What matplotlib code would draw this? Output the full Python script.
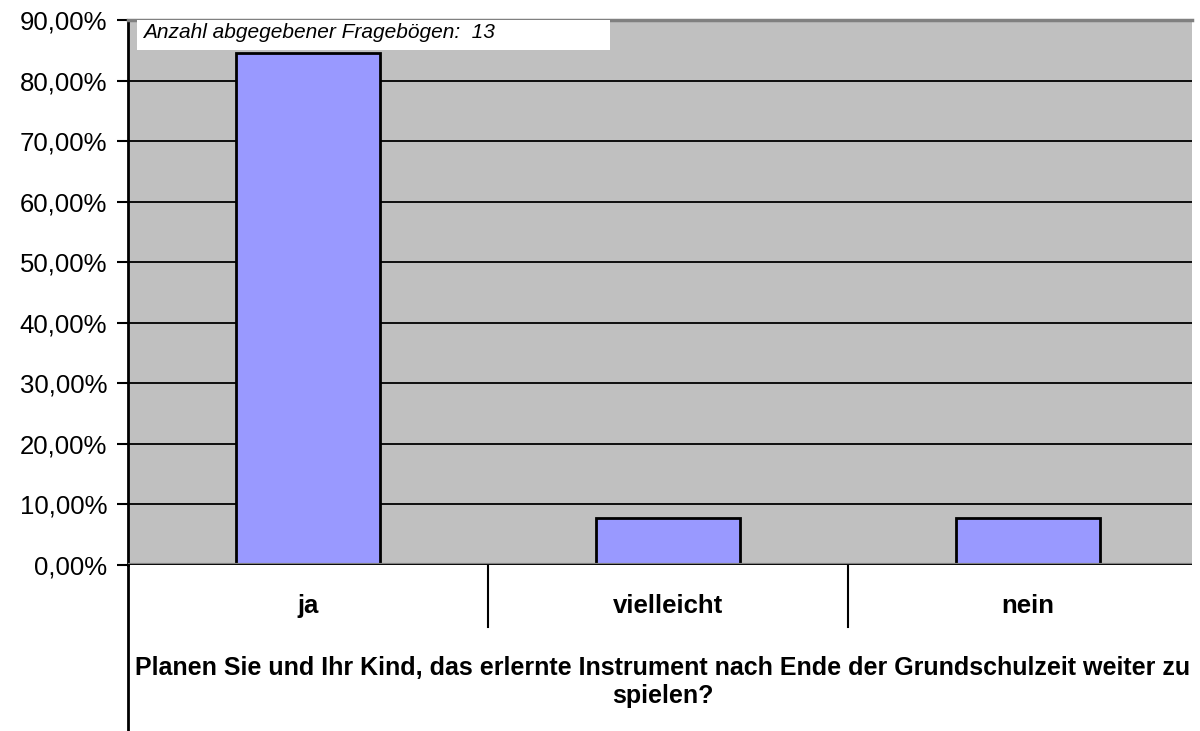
import numpy as np
import matplotlib
matplotlib.use("Agg")
import matplotlib.pyplot as plt
from matplotlib.patches import Rectangle
from matplotlib.ticker import FuncFormatter

plt.rcParams['font.family'] = ['Liberation Sans', 'DejaVu Sans']

# Data
categories = ['ja', 'vielleicht', 'nein']
shares = [11 / 13 * 100, 1 / 13 * 100, 1 / 13 * 100]
yticks = list(range(0, 91, 10))
note = 'Anzahl abgegebener Fragebögen:  13'
xlabel = 'Planen Sie und Ihr Kind, das erlernte Instrument nach Ende der Grundschulzeit weiter zu\nspielen?'

W, H = 1200, 731
fig = plt.figure(figsize=(W / 100, H / 100), dpi=100)
fig.patch.set_facecolor('white')

# plot area in pixels: left 128, right 1192, top 20, bottom 565
left, right, top, bottom = 128, 1192, 20, 565
ax = fig.add_axes([left / W, (H - bottom) / H, (right - left) / W, (bottom - top) / H])
ax.set_facecolor('#C0C0C0')

x = np.arange(len(categories))
ax.bar(x, shares, width=0.4, color='#9999FF', edgecolor='black', linewidth=2, zorder=3)

# each category slot is 360 px wide, area is cut at the right edge
slot = 360
ax.set_xlim(-0.5, -0.5 + (right - left) / slot)
ax.set_ylim(0, 90)

ax.set_yticks(yticks)
ax.yaxis.set_major_formatter(FuncFormatter(lambda v, p: f'{v:.2f}'.replace('.', ',') + '%'))
ax.tick_params(axis='y', direction='out', length=8, width=1.5, labelsize=18.5, pad=7)
ax.set_xticks([])

for v in yticks[1:-1]:
    ax.axhline(v, color='black', linewidth=1.3, zorder=2)
ax.axhline(0, color='black', linewidth=1.3, zorder=4)

ax.spines['right'].set_visible(False)
ax.spines['top'].set_color('#808080')
ax.spines['top'].set_linewidth(2.5)
ax.spines['bottom'].set_visible(False)
ax.spines['left'].set_linewidth(2)

# gray shadow under the category axis
ax.plot([-0.5, 2.5], [0, 0], color='#808080', linewidth=3, zorder=3.5)

# category labels and dividers below the axis
for i, c in enumerate(categories):
    ax.text(i, -0.075, c, transform=ax.get_xaxis_transform(), ha='center', va='center',
            fontsize=18.5, fontweight='bold')
for b in [0.5, 1.5]:
    ax.plot([b, b], [0, -62 / (bottom - top)], color='black', linewidth=1.5,
            transform=ax.get_xaxis_transform(), clip_on=False)

# left axis continues down to the figure bottom
fig.add_artist(plt.Line2D([left / W, left / W], [0, (H - bottom) / H],
                          color='black', linewidth=2, transform=fig.transFigure))

fig.text((left + right) / 2 / W + 3 / W, (H - 682) / H, xlabel, ha='center', va='center',
         fontsize=18, fontweight='bold', linespacing=1.2)

# note box
ax.add_patch(Rectangle((9 / 1064, 1 - 30 / 545), 473 / 1064, 30 / 545,
                       transform=ax.transAxes, facecolor='white', edgecolor='none',
                       zorder=5, clip_on=False))
ax.text(15 / 1064, 1 - 12 / 545, note, transform=ax.transAxes, ha='left', va='center',
        fontsize=15, fontstyle='italic', zorder=6)

fig.savefig('out.png', dpi=100)
